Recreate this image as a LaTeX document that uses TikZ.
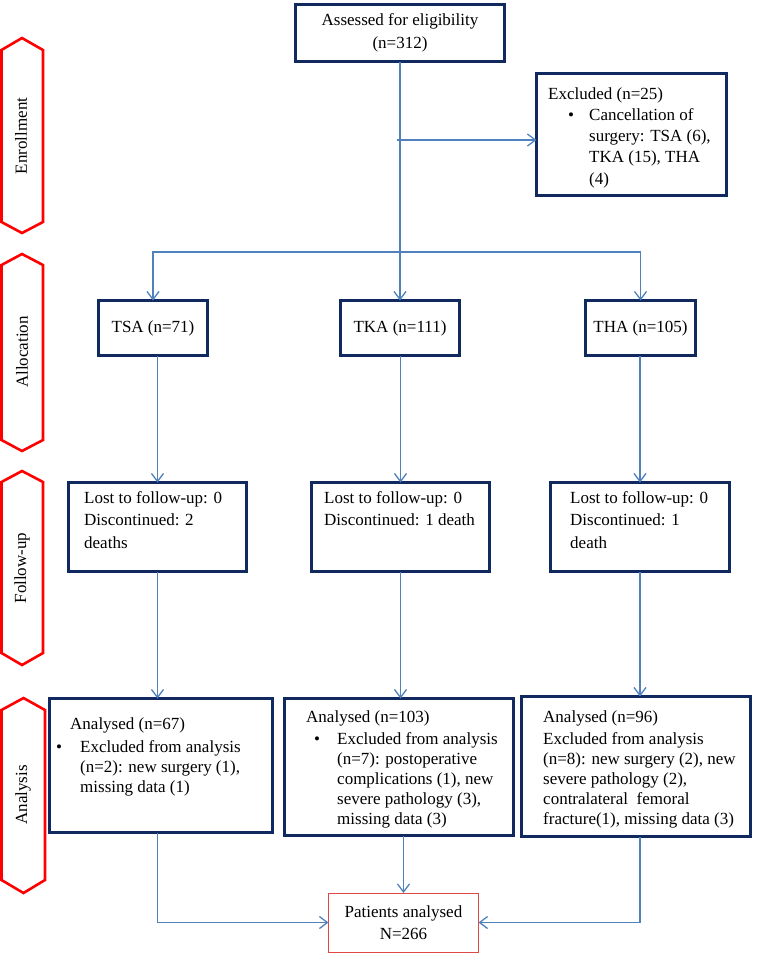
\documentclass[tikz,border=0pt]{standalone}
\usepackage{fontspec}
\setmainfont{Liberation Serif}
\usetikzlibrary{arrows.meta,calc}
\definecolor{boxnavy}{HTML}{102A5F}
\definecolor{arrblue}{HTML}{4F81BD}
\definecolor{hexred}{HTML}{FF0000}
\definecolor{finred}{HTML}{E04848}
\newcommand\tstr{\rule{0pt}{12.5pt}}
\begin{document}
\begin{tikzpicture}[x=1pt,y=-1pt,
  box/.style={draw=boxnavy, line width=3pt, inner sep=0pt, outer sep=0pt, align=center,
    font=\fontsize{17}{22.5}\selectfont},
  txt/.style={align=left, anchor=north west, inner sep=0pt},
  fu/.style={txt, font=\fontsize{17}{22.5}\selectfont},
  an/.style={txt, font=\fontsize{17}{20}\selectfont},
  arr/.style={draw=arrblue, line width=1.3pt, -{Straight Barb[length=8pt,width=12pt]}},
  hex/.style={draw=hexred, line width=2.6pt, line join=miter},
  side/.style={font=\fontsize{17}{20}\selectfont, rotate=90, inner sep=0pt}]
\useasboundingbox (0,0) rectangle (760,954);

% side hexagons
\draw[hex] (22,38) -- (43,50) -- (43,222) -- (22,233) -- (1.5,222) -- (1.5,50) -- cycle;
\node[side] (lenr) at (21,136) {Enrollment};
\draw[hex] (22,254) -- (43,265) -- (43,440) -- (22,451) -- (1.5,440) -- (1.5,265) -- cycle;
\node[side] (lall) at (22,352) {Allocation};
\draw[hex] (22,471) -- (43,482) -- (43,653) -- (22,665) -- (1.5,653) -- (1.5,482) -- cycle;
\node[side] (lfu) at (22,568) {Follow-up};
\draw[hex] (23.5,698) -- (45,710) -- (45,880) -- (23.5,893) -- (1.5,880) -- (1.5,710) -- cycle;
\node[side] (lan) at (23,795) {Analysis};

% boxes
\node[box, minimum width=209pt, minimum height=57pt] (assess) at (400,33) {Assessed for eligibility\\(n=312)};
\node[box, minimum width=190pt, minimum height=122pt] (excl) at (631.5,134.5) {};
\node[box, minimum width=109pt, minimum height=55pt] (tsa) at (153,328) {TSA (n=71)};
\node[box, minimum width=119pt, minimum height=55pt] (tka) at (400,328) {TKA (n=111)};
\node[box, minimum width=110pt, minimum height=55pt] (tha) at (640.5,328) {THA (n=105)};
\node[box, minimum width=178pt, minimum height=89pt] (fu1) at (157.5,527) {};
\node[box, minimum width=178pt, minimum height=89pt] (fu2) at (400.5,527) {};
\node[box, minimum width=179pt, minimum height=89pt] (fu3) at (640,527) {};
\node[box, minimum width=223pt, minimum height=134pt] (an1) at (161,765.5) {};
\node[box, minimum width=229pt, minimum height=137pt] (an2) at (399,767) {};
\node[box, minimum width=229pt, minimum height=140pt] (an3) at (636,766.5) {};
\node[box, draw=finred, line width=1pt, minimum width=150pt, minimum height=59pt] (pa) at (403.5,922.5) {Patients analysed\\N=266};

% texts
\node[fu, font=\fontsize{17}{21.2}\selectfont] (texcl) at (548,86.5) {\tstr Excluded (n=25)\\
  \hspace*{20pt}\makebox[21pt][l]{•}Cancellation of\\
  \hspace*{41pt}surgery: TSA (6),\\
  \hspace*{41pt}TKA (15), THA\\
  \hspace*{41pt}(4)};
\node[fu] (tfu1) at (84,490.5) {\tstr Lost to follow-up: 0\\Discontinued: 2\\deaths};
\node[fu] (tfu2) at (324,490.5) {\tstr Lost to follow-up: 0\\Discontinued: 1 death};
\node[fu] (tfu3) at (570,490.5) {\tstr Lost to follow-up: 0\\Discontinued: 1\\death};
\node[an] (tan1) at (56,716.5) {\tstr\hspace*{14pt}Analysed (n=67)\\[3pt]
  \makebox[24pt][l]{•}Excluded from analysis\\
  \hspace*{24pt}(n=2): new surgery (1),\\
  \hspace*{24pt}missing data (1)};
\node[an] (tan2) at (306,709.5) {\tstr Analysed (n=103)\\[2pt]
  \hspace*{8pt}\makebox[23pt][l]{•}Excluded from analysis\\
  \hspace*{31pt}(n=7): postoperative\\
  \hspace*{31pt}complications (1), new\\
  \hspace*{31pt}severe pathology (3),\\
  \hspace*{31pt}missing data (3)};
\node[an] (tan3) at (543,709.5) {\tstr Analysed (n=96)\\[2pt]
  Excluded from analysis\\
  (n=8): new surgery (2), new\\
  severe pathology (2),\\
  contralateral\ \ femoral\\
  fracture(1), missing data (3)};

% connectors
\coordinate (split) at (400,252);
\coordinate (exc0) at (397,140);
\draw[arr] (assess.south) -- (tka.north);
\draw[arr] (split) -| (tsa.north);
\draw[arr] (split) -| (tha.north);
\draw[arr] (exc0) -- (excl.west |- exc0);
\draw[arr] (fu1.north |- tsa.south) -- (fu1.north);
\draw[arr] (fu2.north |- tka.south) -- (fu2.north);
\draw[arr] (fu3.north |- tha.south) -- (fu3.north);
\draw[arr] (fu1.south) -- (fu1.south |- an1.north);
\draw[arr] (fu2.south) -- (fu2.south |- an2.north);
\draw[arr] (fu3.south) -- (fu3.south |- an3.north);
\draw[arr] (an1.south -| fu1.south) |- (pa.west);
\draw[arr] (pa.north |- an2.south) -- (pa.north);
\draw[arr] (an3.south -| fu3.south) |- (pa.east);
\end{tikzpicture}
\end{document}
